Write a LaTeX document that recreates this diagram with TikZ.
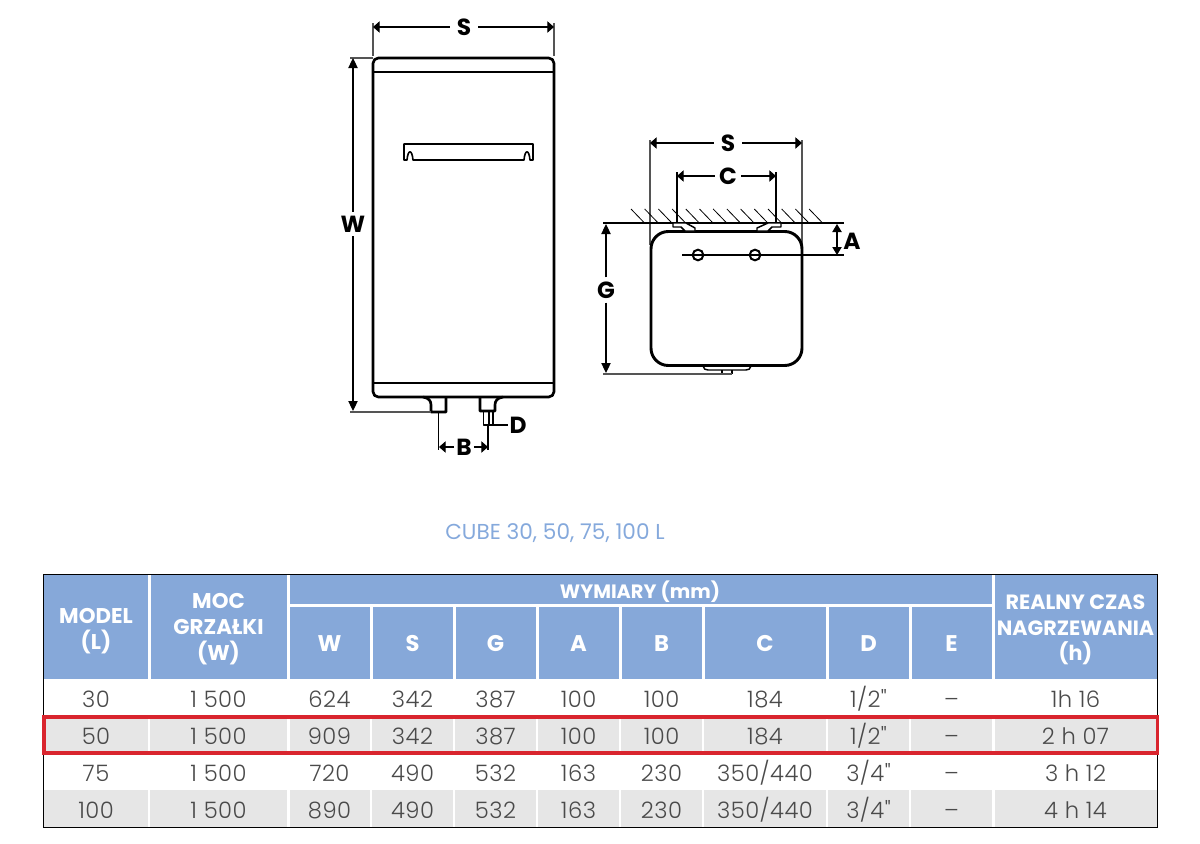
\documentclass[tikz,border=0pt]{standalone}
\usepackage{fontspec}
\setmainfont{Poppins}
\newfontfamily\cellfont[LetterSpace=2]{Poppins Light}
\usetikzlibrary{arrows.meta}
\definecolor{headblue}{HTML}{86A8D9}
\definecolor{titleblue}{HTML}{85A9DC}
\definecolor{rowgrey}{HTML}{E6E6E6}
\definecolor{celltext}{HTML}{4A4A4A}
\definecolor{redbox}{HTML}{D9252E}
\definecolor{extgrey}{HTML}{555555}
\tikzset{
  x=0.75pt,y=-0.75pt,
  outline/.style={line width=2pt,black,line join=round},
  thinline/.style={line width=1.1pt,black,line join=round},
  extline/.style={line width=0.8pt,extgrey},
  dimv/.style={line width=0.8pt,black,{Triangle[length=6pt,width=7pt]}-{Triangle[length=6pt,width=7pt]}},
  dimonev/.style={line width=0.8pt,black,-{Triangle[length=7.5pt,width=7pt]}},
  dimone/.style={line width=0.8pt,black,-{Triangle[length=5pt,width=8.5pt]}},
  letter/.style={font=\bfseries\fontsize{17.5}{17.5}\selectfont,text=black,inner xsep=3pt,inner ysep=3pt,fill=white},
  headcell/.style={fill=headblue,draw=none},
  greycell/.style={fill=rowgrey,draw=none},
  headtext/.style={font=\bfseries\fontsize{16}{19.5}\selectfont,text=white,align=center,inner sep=0pt},
  celltxt/.style={font=\cellfont\fontsize{17}{17}\selectfont,text=celltext,inner sep=0pt},
}
\begin{document}
\begin{tikzpicture}
\useasboundingbox (0,0) rectangle (1200,843);
% ---- front view
\coordinate (sTL) at (373,23); \coordinate (sTLb) at (373,56);
\coordinate (sTR) at (554,23); \coordinate (sTRb) at (554,56);
\draw[extline] (sTL) -- (sTLb); \draw[extline] (sTR) -- (sTRb);
\node[letter,inner xsep=5pt] (lblS) at (464,27) {S};
\coordinate (sA) at (373,27); \coordinate (sB) at (554,27);
\draw[dimone] (lblS) -- (sA); \draw[dimone] (lblS) -- (sB);
\draw[outline,rounded corners=4pt] (373,397) -- (373,58) -- (554,58) -- (554,397) -- cycle;
\draw[outline] (373,72) -- (554,72);
\draw[outline] (373,383) -- (554,383);
% handle
\draw[line width=1.2pt,black,line join=round] (404,144) -- (533,144) -- (533,160) -- (530,160)
  .. controls (529,149) and (525,149) .. (524,160) -- (413,160)
  .. controls (412,149) and (408,149) .. (407,160) -- (404,160) -- cycle;
% pipes
\draw[outline] (423,397) .. controls (429,398) and (431,401) .. (431,405) -- (431,412) -- (446,412) -- (446,397);
\draw[outline] (480,397) -- (480,411) -- (495,411) -- (495,405) .. controls (495,401) and (497,398) .. (503,397);
\draw[thinline] (483.5,411) -- (483.5,425) -- (493,425) -- (493,411) (489,411) -- (489,425);
% W
\coordinate (wT) at (350,58); \coordinate (wTe) at (373,58);
\coordinate (wB) at (350,412); \coordinate (wBe) at (431,412);
\draw[extline] (wT) -- (wTe); \draw[extline,line width=1.2pt] (wB) -- (wBe);
\node[letter] (lblW) at (353,224) {W};
\coordinate (wA) at (353,58); \coordinate (wC) at (353,411);
\draw[dimonev] (lblW) -- (wA); \draw[dimonev] (lblW) -- (wC);
% B, D
\coordinate (bL) at (438.5,412); \coordinate (bLb) at (438.5,450);
\coordinate (bR) at (488,425); \coordinate (bRb) at (488,450);
\draw[line width=0.8pt] (bL) -- (bLb); \draw[line width=0.8pt] (bR) -- (bRb);
\node[letter,inner xsep=1.5pt] (lblB) at (464,447) {B};
\coordinate (bA) at (439,447); \coordinate (bC) at (488,447);
\draw[dimone] (lblB) -- (bA); \draw[dimone] (lblB) -- (bC);
\node[letter,inner xsep=1pt,inner ysep=1pt] (lblD) at (518,425) {D};
\coordinate (dS) at (490,425);
\draw[line width=0.8pt] (dS) -- (lblD);
% ---- side view
\coordinate (s2L) at (650,140); \coordinate (s2Lb) at (650,245);
\coordinate (s2R) at (802,140); \coordinate (s2Rb) at (802,245);
\draw[extline] (s2L) -- (s2Lb); \draw[extline] (s2R) -- (s2Rb);
\node[letter,inner xsep=5pt] (lblS2) at (728,143) {S};
\coordinate (s2A) at (650,143); \coordinate (s2C) at (802,143);
\draw[dimone] (lblS2) -- (s2A); \draw[dimone] (lblS2) -- (s2C);
\coordinate (cL) at (677,172); \coordinate (cLb) at (677,224);
\coordinate (cR) at (776,172); \coordinate (cRb) at (776,224);
\draw[line width=0.8pt] (cL) -- (cLb); \draw[line width=0.8pt] (cR) -- (cRb);
\node[letter] (lblC) at (728,176) {C};
\coordinate (cA) at (677,176); \coordinate (cC) at (776,176);
\draw[dimone] (lblC) -- (cA); \draw[dimone] (lblC) -- (cC);
% wall
\coordinate (wallL) at (603,223); \coordinate (wallR) at (844,223);
\draw[line width=0.8pt] (wallL) -- (wallR);
\foreach \i in {0,...,13} {
  \draw[line width=0.6pt] ({631+13.7*\i},209) -- ({644.5+13.7*\i},223);
}
% body
\draw[outline,line width=2.2pt,rounded corners=13pt] (651,300) -- (651,231.5) -- (802,231.5) -- (802,365.5) -- (651,365.5) -- cycle;
% brackets
\draw[thinline,fill=white] (673,223) -- (686,223) -- (695,228) -- (695,231) -- (685,231) -- (681,227) -- (673,227) -- cycle;
\draw[thinline,fill=white] (781,223) -- (768,223) -- (757,228) -- (757,231) -- (768,231) -- (772,227) -- (781,227) -- cycle;
% holes
\coordinate (aLine) at (682,255); \coordinate (aLineE) at (844,255);
\draw[line width=0.8pt] (aLine) -- (aLineE);
\node[circle,draw=black,line width=1.5pt,fill=none,minimum size=8pt,inner sep=0pt] (hole1) at (698,255) {};
\node[circle,draw=black,line width=1.5pt,fill=none,minimum size=8pt,inner sep=0pt] (hole2) at (755,255) {};
% A
\coordinate (aT) at (837,224); \coordinate (aB) at (837,255);
\draw[dimv] (aT) -- (aB);
\node[letter,fill=none] (lblA) at (852,241) {A};
% G
\coordinate (gT) at (606,224); \coordinate (gB) at (606,373);
\node[letter] (lblG) at (606,290) {G};
\draw[dimonev] (lblG) -- (gT); \draw[dimonev] (lblG) -- (gB);
\coordinate (gE) at (603,374); \coordinate (gEe) at (732,374);
% bottom feature
\draw[thinline] (703,366) .. controls (704,369) and (705,370) .. (708,370) -- (746,370) .. controls (749,370) and (750,369) .. (751,366);
\draw[thinline] (722,370) -- (722,374) (732,370) -- (732,374);
\draw[extline,line width=1.2pt] (gE) -- (gEe);
% ---- title
\node[font=\fontsize{16.2}{16.2}\selectfont,text=titleblue,inner sep=0pt] (title) at (555,533) {CUBE 30, 50, 75, 100 L};
% ---- table
\fill[headcell] (44,575) rectangle (1157,679);
\fill[white] (147.5,575) rectangle (150.5,679);
\fill[white] (286.5,575) rectangle (289.5,679);
\fill[white] (991.5,575) rectangle (994.5,679);
\fill[white] (288,603.5) rectangle (993,606.5);
\foreach \xx in {371,454,537,620,703,827,910} \fill[white] (\xx-1.5,605) rectangle (\xx+1.5,679);
\foreach \ya/\yb in {718/753,790/826.5} {
  \foreach \xa/\xb in {44/148,150/287,290/370,372/453,455/536,538/619,621/702,704/826,828/909,911/992,995/1157} {
    \fill[greycell] (\xa,\ya) rectangle (\xb,\yb);
  }
}
% header text
\node[headtext] (hModel) at (96,631) {MODEL\\(L)};
\node[headtext] (hMoc) at (218.5,629.5) {MOC\\GRZAŁKI\\(W)};
\node[headtext,font=\bfseries\fontsize{14.5}{19}\selectfont] (hWym) at (640,592) {WYMIARY (mm)};
\node[headtext,font=\bfseries\fontsize{15.5}{19}\selectfont] (hReal) at (1075.5,630) {REALNY CZAS\\NAGRZEWANIA\\(h)};
\foreach \t/\cx in {W/329.5,S/412.5,G/495.5,A/578.5,B/661.5,C/765,D/868.5,E/951.5}
  \node[headtext,font=\bfseries\fontsize{17}{19}\selectfont] (h\t) at (\cx,644) {\t};
% data
\def\cxs{{96,218.5,329.5,412.5,495.5,578.5,661.5,765,868.5,951.5,1075.5}}
\newcommand\datarow[3]{%
  \foreach \txt [count=\c] in {#3} {
    \pgfmathparse{\cxs[\c-1]}
    \node[celltxt,anchor=base] (d#1c\c) at (\pgfmathresult,#2+8.5) {\txt};
  }
}
\datarow{a}{698.5}{30,1\hspace{.3em}500,624,342,387,100,100,184,1/2",–,1h 16}
\datarow{b}{735.5}{50,1\hspace{.3em}500,909,342,387,100,100,184,1/2",–,2 h 07}
\datarow{c}{772.5}{75,1\hspace{.3em}500,720,490,532,163,230,350/440,3/4",–,3 h 12}
\datarow{d}{809.5}{100,1\hspace{.3em}500,890,490,532,163,230,350/440,3/4",–,4 h 14}
% frame and highlight
\draw[line width=0.75pt,black] (43.5,574.5) rectangle (1157.5,827);
\draw[line width=2.3pt,redbox] (44,717) rectangle (1157.5,753);
\end{tikzpicture}
\end{document}
